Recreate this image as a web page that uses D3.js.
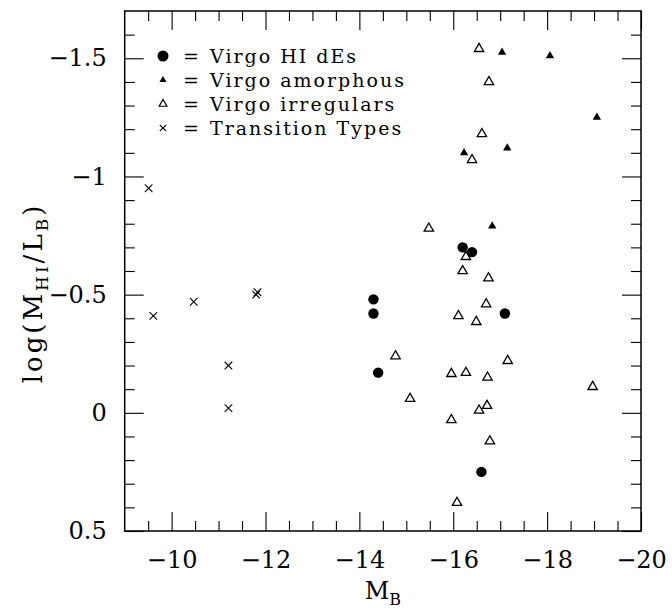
<!DOCTYPE html>
<html lang="en">
<head>
<meta charset="UTF-8">
<title>log(MHI/LB) vs MB</title>
<style>
  body { margin: 0; background: #fff; }
  svg text { font-family: "DejaVu Serif", serif; fill: #000; }
  .axis .tick text { font-size: 24px; }
  .axis .tick line { stroke: #000; stroke-width: 1.1; }
  .legend text { font-size: 19px; letter-spacing: 2px; }
  .title { font-size: 24px; }
  .ytitle { font-size: 26px; letter-spacing: 3px; }
</style>
<script src="https://d3js.org/d3.v7.min.js"></script>
</head>
<body>
<script>
// values: M_B and log(M_HI/L_B)
const dEsMB    = [-16.20, -16.40, -17.10, -16.60, -14.30, -14.30, -14.40];
const dEsRatio = [-0.70, -0.68, -0.42, 0.25, -0.48, -0.42, -0.17];

const amorphMB    = [-17.04, -18.06, -19.06, -17.15, -16.23, -16.83];
const amorphRatio = [-1.525, -1.51, -1.25, -1.12, -1.10, -0.79];

const irrMB    = [-16.55, -16.76, -16.61, -16.40, -15.48, -16.27, -16.20, -16.75,
                  -16.70, -16.11, -16.49, -17.16, -14.77, -15.96, -16.27, -16.73,
                  -18.97, -15.08, -16.72, -16.55, -15.96, -16.78, -16.08];
const irrRatio = [-1.54, -1.40, -1.18, -1.07, -0.78, -0.66, -0.60, -0.57,
                  -0.46, -0.41, -0.385, -0.22, -0.24, -0.165, -0.17, -0.15,
                  -0.11, -0.06, -0.03, -0.01, 0.03, 0.12, 0.38];

const transMB    = [-9.51, -10.47, -9.61, -11.80, -11.83, -11.21, -11.21];
const transRatio = [-0.95, -0.47, -0.41, -0.50, -0.51, -0.20, -0.02];

const legendLabels = ["Virgo HI dEs", "Virgo amorphous", "Virgo irregulars", "Transition Types"];

const xMajor = [-10, -12, -14, -16, -18, -20];
const xTickLabels = ["\u221210", "\u221212", "\u221214", "\u221216", "\u221218", "\u221220"];
const yMajor = [-1.5, -1, -0.5, 0, 0.5];
const yTickLabels = ["\u22121.5", "\u22121", "\u22120.5", "0", "0.5"];

const W = 672, H = 609;
const margin = { top: 11, right: 31, bottom: 78, left: 124.7 };
const width = W - margin.left - margin.right;
const height = H - margin.top - margin.bottom;

const svg = d3.select("body").append("svg")
  .attr("width", W)
  .attr("height", H);

const g = svg.append("g")
  .attr("transform", `translate(${margin.left},${margin.top})`);

const x = d3.scaleLinear().domain([-9, -20]).range([0, width]);
const y = d3.scaleLinear().domain([-1.7, 0.5]).range([0, height]);

const xMinor = d3.range(-9.5, -19.99, -0.5).filter(v => v % 2 !== 0);
const yMinor = d3.range(-16, 5, 1).map(v => v / 10).filter(v => Math.abs(v * 2 - Math.round(v * 2)) > 1e-6);

const noDomain = sel => sel.select(".domain").remove();

// minor ticks on all four sides
g.append("g").attr("class", "axis")
  .attr("transform", `translate(0,${height})`)
  .call(d3.axisBottom(x).tickValues(xMinor).tickSize(-10).tickFormat(""))
  .call(noDomain);
g.append("g").attr("class", "axis")
  .call(d3.axisTop(x).tickValues(xMinor).tickSize(-10).tickFormat(""))
  .call(noDomain);
g.append("g").attr("class", "axis")
  .call(d3.axisLeft(y).tickValues(yMinor).tickSize(-10).tickFormat(""))
  .call(noDomain);
g.append("g").attr("class", "axis")
  .attr("transform", `translate(${width},0)`)
  .call(d3.axisRight(y).tickValues(yMinor).tickSize(-10).tickFormat(""))
  .call(noDomain);

// major ticks
g.append("g").attr("class", "axis")
  .attr("transform", `translate(0,${height})`)
  .call(d3.axisBottom(x).tickValues(xMajor).tickSize(-19).tickPadding(20)
    .tickFormat((d, i) => xTickLabels[i]))
  .call(noDomain);
g.append("g").attr("class", "axis")
  .call(d3.axisTop(x).tickValues(xMajor).tickSize(-19).tickFormat(""))
  .call(noDomain);
g.append("g").attr("class", "axis")
  .call(d3.axisLeft(y).tickValues(yMajor).tickSize(-19).tickPadding(18)
    .tickFormat((d, i) => yTickLabels[i]))
  .call(noDomain);
g.append("g").attr("class", "axis")
  .attr("transform", `translate(${width},0)`)
  .call(d3.axisRight(y).tickValues(yMajor).tickSize(-19).tickFormat(""))
  .call(noDomain);

// frame
g.append("rect")
  .attr("width", width)
  .attr("height", height)
  .attr("fill", "none")
  .attr("stroke", "#000")
  .attr("stroke-width", 1.5);

// axis titles
const xt = svg.append("text")
  .attr("class", "title")
  .attr("text-anchor", "middle")
  .attr("x", margin.left + width / 2)
  .attr("y", 599);
xt.append("tspan").text("M");
xt.append("tspan").attr("font-size", 16).attr("dy", 6).text("B");

const yt = svg.append("text")
  .attr("class", "ytitle")
  .attr("text-anchor", "middle")
  .attr("transform", "translate(42,293) rotate(-90)");
yt.append("tspan").text("log(M");
yt.append("tspan").attr("font-size", 17).attr("dy", 6).text("HI");
yt.append("tspan").attr("dy", -6).text("/L");
yt.append("tspan").attr("font-size", 17).attr("dy", 6).text("B");
yt.append("tspan").attr("dy", -6).text(")");

// marker makers
const triFilled = d3.symbol().type(d3.symbolTriangle).size(30);
const triOpen = d3.symbol().type(d3.symbolTriangle).size(38);

function cross(sel, r) {
  sel.append("line").attr("x1", -r).attr("y1", -r).attr("x2", r).attr("y2", r);
  sel.append("line").attr("x1", -r).attr("y1", r).attr("x2", r).attr("y2", -r);
  sel.selectAll("line").attr("stroke", "#000").attr("stroke-width", 1.1);
}

const pts = g.append("g");

pts.selectAll(".irr")
  .data(d3.zip(irrMB, irrRatio))
  .join("path")
  .attr("class", "irr")
  .attr("d", triOpen)
  .attr("transform", d => `translate(${x(d[0])},${y(d[1])})`)
  .attr("fill", "#fff")
  .attr("stroke", "#000")
  .attr("stroke-width", 1.3);

pts.selectAll(".amorph")
  .data(d3.zip(amorphMB, amorphRatio))
  .join("path")
  .attr("class", "amorph")
  .attr("d", triFilled)
  .attr("transform", d => `translate(${x(d[0])},${y(d[1])})`)
  .attr("fill", "#000");

pts.selectAll(".des")
  .data(d3.zip(dEsMB, dEsRatio))
  .join("circle")
  .attr("class", "des")
  .attr("cx", d => x(d[0]))
  .attr("cy", d => y(d[1]))
  .attr("r", 5.2)
  .attr("fill", "#000");

pts.selectAll(".trans")
  .data(d3.zip(transMB, transRatio))
  .join("g")
  .attr("class", "trans")
  .attr("transform", d => `translate(${x(d[0])},${y(d[1])})`)
  .each(function () { cross(d3.select(this), 3.8); });

// legend
const legend = svg.append("g").attr("class", "legend")
  .attr("transform", "translate(163,56)");
const rows = legend.selectAll("g")
  .data(legendLabels)
  .join("g")
  .attr("transform", (d, i) => `translate(0,${i * 24})`);

rows.each(function (d, i) {
  const r = d3.select(this);
  if (i === 0) r.append("circle").attr("r", 5.5).attr("fill", "#000");
  if (i === 1) r.append("path").attr("d", d3.symbol().type(d3.symbolTriangle).size(22)).attr("fill", "#000");
  if (i === 2) r.append("path").attr("d", d3.symbol().type(d3.symbolTriangle).size(26))
    .attr("fill", "none").attr("stroke", "#000").attr("stroke-width", 1.2);
  if (i === 3) cross(r, 3.2);
});
rows.append("text").attr("x", 20).attr("y", 7).text("=");
rows.append("text").attr("x", 47).attr("y", 7).text(d => d);
</script>
</body>
</html>
